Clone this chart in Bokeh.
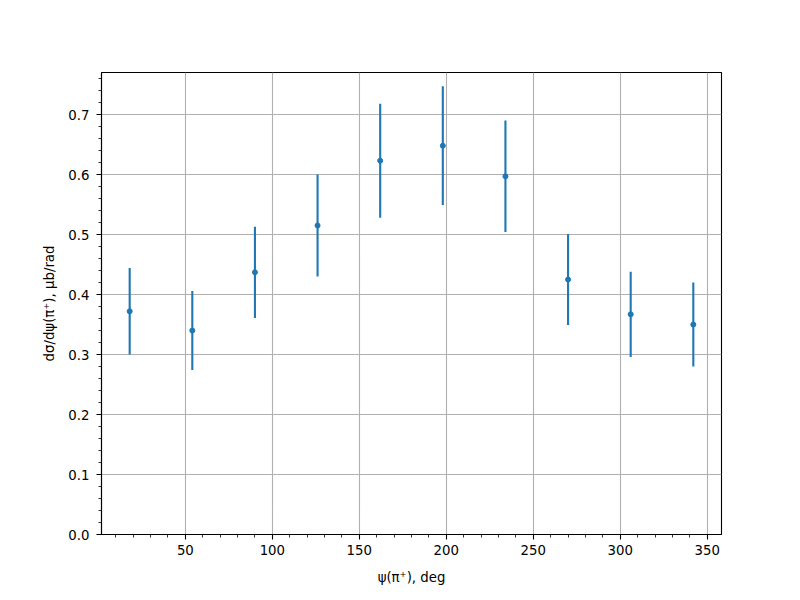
from bokeh.plotting import figure
from bokeh.models import FixedTicker, Range1d, ColumnDataSource
from bokeh.embed import file_html
from bokeh.resources import INLINE

# Data
psi_deg = [18, 54, 90, 126, 162, 198, 234, 270, 306, 342]
dsigma = [0.372, 0.340, 0.437, 0.515, 0.623, 0.648, 0.597, 0.425, 0.367, 0.350]
dsigma_err = [0.072, 0.066, 0.076, 0.085, 0.095, 0.099, 0.093, 0.076, 0.071, 0.070]

x_ticks = [50, 100, 150, 200, 250, 300, 350]
x_minor = list(range(10, 360, 10))
y_ticks = [0.0, 0.1, 0.2, 0.3, 0.4, 0.5, 0.6, 0.7]
y_minor = [round(i * 0.02, 2) for i in range(0, 39)]

lower = [v - e for v, e in zip(dsigma, dsigma_err)]
upper = [v + e for v, e in zip(dsigma, dsigma_err)]
src = ColumnDataSource(dict(x=psi_deg, y=dsigma, lo=lower, hi=upper))

BLUE = "#1f77b4"
FONT = "DejaVu Sans"
FS = "13.3px"

p = figure(
    width=792, height=584,
    frame_width=620, frame_height=462,
    min_border_left=101, min_border_right=71,
    min_border_top=72, min_border_bottom=50,
    output_backend="svg", toolbar_location=None,
    x_range=Range1d(1.8, 358.2), y_range=Range1d(0, 0.77),
)
p.outline_line_color = "black"
p.outline_line_width = 1.1
p.background_fill_color = "white"
p.border_fill_color = "white"

p.segment(x0="x", y0="lo", x1="x", y1="hi", source=src, line_color=BLUE, line_width=2.1)
p.scatter(x="x", y="y", source=src, size=5, fill_color=BLUE, line_color=BLUE, marker="circle")

xt = FixedTicker(ticks=x_ticks, minor_ticks=x_minor)
yt = FixedTicker(ticks=y_ticks, minor_ticks=y_minor)
p.xaxis.ticker = xt
p.yaxis.ticker = yt
p.xgrid.ticker = FixedTicker(ticks=x_ticks)
p.ygrid.ticker = FixedTicker(ticks=y_ticks)
p.yaxis.major_label_overrides = {t: f"{t:.1f}" for t in y_ticks}

for g in (p.xgrid, p.ygrid):
    g.grid_line_color = "#b0b0b0"
    g.grid_line_width = 1.1

for ax in (p.xaxis, p.yaxis):
    ax.axis_line_color = "black"
    ax.axis_line_width = 1.1
    ax.major_tick_line_color = "black"
    ax.minor_tick_line_color = "black"
    ax.major_tick_in = 0
    ax.major_tick_out = 5
    ax.minor_tick_in = 0
    ax.minor_tick_out = 3
    ax.major_tick_line_width = 1.1
    ax.minor_tick_line_width = 0.8
    ax.major_label_text_font = FONT
    ax.major_label_text_font_size = FS
    ax.major_label_text_color = "black"
    ax.axis_label_text_font = FONT
    ax.axis_label_text_font_size = FS
    ax.axis_label_text_font_style = "normal"
    ax.axis_label_text_color = "black"

p.xaxis.major_label_standoff = 5
p.yaxis.major_label_standoff = 7
p.xaxis.axis_label = "ψ(π⁺), deg"
p.yaxis.axis_label = "dσ/dψ(π⁺), μb/rad"
p.xaxis.axis_label_standoff = 12
p.yaxis.axis_label_standoff = 8

open("out.html", "w").write(file_html(p, INLINE))
